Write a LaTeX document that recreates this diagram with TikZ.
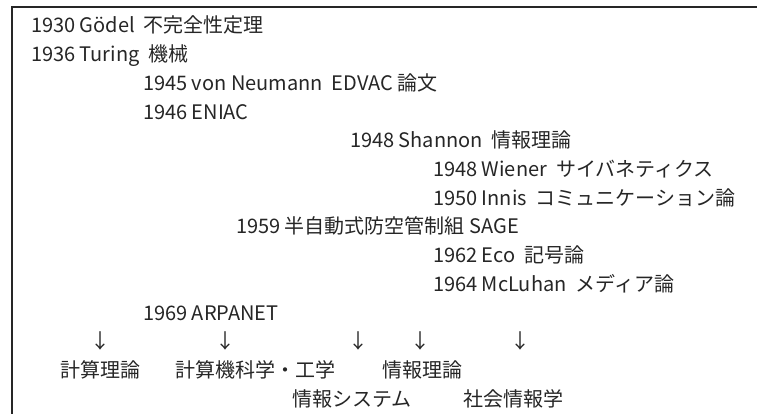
\documentclass[tikz,border=0pt]{standalone}
\usepackage{fontspec}
\setmainfont{Noto Sans CJK JP}
\begin{document}
\begin{tikzpicture}[x=1pt,y=-1pt,
  txt/.style={anchor=base west,inner sep=0pt,outer sep=0pt,text=black!85,font=\fontsize{20}{24}\selectfont},
  arr/.style={anchor=base,inner sep=0pt,outer sep=0pt,text=black!85,font=\fontsize{20}{24}\selectfont},
  frame/.style={draw=black!85,line width=2pt}]
\useasboundingbox (0,0) rectangle (757,414);
\fill[white] (0,0) rectangle (757,414);
\coordinate (fb) at (11.5,414);
\coordinate (fc) at (11.5,7.5);
\coordinate (fr) at (757,7.5);
\draw[frame] (fb) -- (fc) -- (fr);
\node[txt] (g) at (31,33) {1930 Gödel\ \ 不完全性定理};
\node[txt] (t) at (31,61.7) {1936 Turing\ \ 機械};
\node[txt] (n) at (143,90.4) {1945 von Neumann\ \ EDVAC 論文};
\node[txt] (e) at (143,119.1) {1946 ENIAC};
\node[txt] (s) at (350,147.8) {1948 Shannon\ \ 情報理論};
\node[txt] (w) at (433,176.5) {1948 Wiener\ \ サイバネティクス};
\node[txt] (i) at (433,205.2) {1950 Innis\ \ コミュニケーション論};
\node[txt] (sage) at (236,233.9) {1959 半自動式防空管制組 SAGE};
\node[txt] (eco) at (433,262.6) {1962 Eco\ \ 記号論};
\node[txt] (m) at (433,291.3) {1964 McLuhan\ \ メディア論};
\node[txt] (a) at (143,320) {1969 ARPANET};
\node[arr] (a1) at (100,348.7) {↓};
\node[arr] (a2) at (225,348.7) {↓};
\node[arr] (a3) at (358,348.7) {↓};
\node[arr] (a4) at (420,348.7) {↓};
\node[arr] (a5) at (520,348.7) {↓};
\node[txt] (l1) at (60,377.4) {計算理論};
\node[txt] (l2) at (175,377.4) {計算機科学・工学};
\node[txt] (l3) at (382,377.4) {情報理論};
\node[txt] (l4) at (292,406.1) {情報システム};
\node[txt] (l5) at (463,406.1) {社会情報学};
\end{tikzpicture}
\end{document}
